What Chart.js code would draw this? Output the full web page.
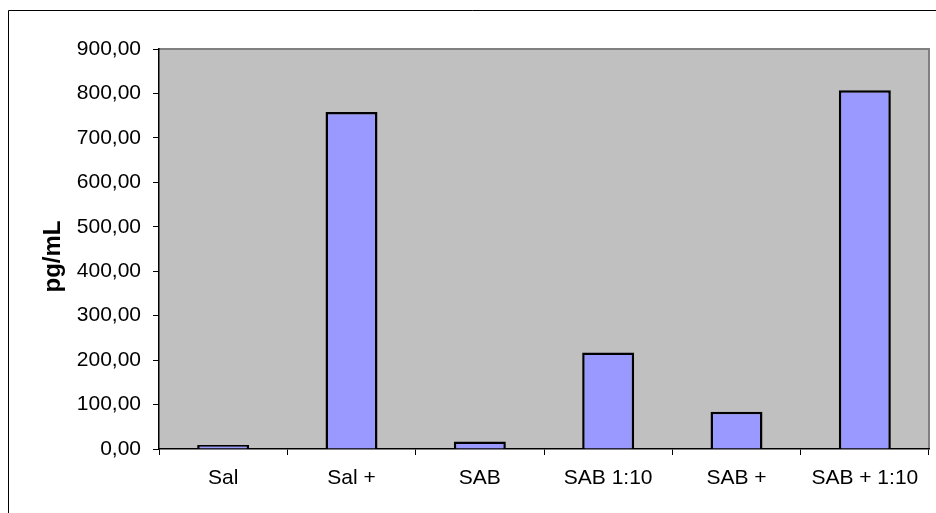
<!DOCTYPE html>
<html>
<head>
<meta charset="utf-8">
<script src="https://cdn.jsdelivr.net/npm/chart.js@4/dist/chart.umd.min.js"></script>
<style>
  html, body { margin: 0; padding: 0; background: #ffffff; }
  #wrap { position: relative; width: 936px; height: 513px; }
</style>
</head>
<body>
<div id="wrap"><canvas id="c" width="936" height="513"></canvas></div>
<script>
const categories = ["Sal", "Sal +", "SAB", "SAB 1:10", "SAB +", "SAB + 1:10"];
const values = [9, 758, 17, 217, 84, 807];
const yTicks = [0, 100, 200, 300, 400, 500, 600, 700, 800, 900];
const yTitle = "pg/mL";

const framePlugin = {
  id: 'frame',
  beforeDraw(chart) {
    const ctx = chart.ctx;
    const a = chart.chartArea;
    ctx.save();
    ctx.fillStyle = '#ffffff';
    ctx.fillRect(0, 0, chart.width, chart.height);
    ctx.strokeStyle = '#000000';
    ctx.lineWidth = 1;
    ctx.beginPath();
    ctx.moveTo(8.5, chart.height);
    ctx.lineTo(8.5, 10.5);
    ctx.lineTo(chart.width, 10.5);
    ctx.stroke();
    ctx.fillStyle = '#C0C0C0';
    ctx.fillRect(a.left, a.top, a.right - a.left, a.bottom - a.top);
    ctx.strokeStyle = '#808080';
    ctx.lineWidth = 2;
    ctx.beginPath();
    ctx.moveTo(a.left, a.top);
    ctx.lineTo(a.right, a.top);
    ctx.lineTo(a.right, a.bottom);
    ctx.stroke();
    // y-axis title
    ctx.save();
    ctx.translate(53, 256.5);
    ctx.rotate(-Math.PI / 2);
    ctx.fillStyle = '#000000';
    ctx.font = 'bold 24px "Liberation Sans"';
    ctx.textAlign = 'center';
    ctx.textBaseline = 'middle';
    ctx.fillText(yTitle, 0, 0);
    ctx.restore();
    ctx.restore();
  }
};

new Chart(document.getElementById('c'), {
  type: 'bar',
  data: {
    labels: categories,
    datasets: [{
      data: values,
      backgroundColor: '#9999FF',
      borderColor: '#000000',
      borderWidth: 2.5,
      barPercentage: 0.405,
      categoryPercentage: 1.0
    }]
  },
  options: {
    responsive: false,
    animation: false,
    devicePixelRatio: 1,
    layout: { padding: { top: 49, right: 7, left: 0, bottom: 0 } },
    plugins: { legend: { display: false }, tooltip: { enabled: false } },
    scales: {
      x: {
        offset: true,
        grid: { offset: true, drawOnChartArea: false, drawTicks: true, tickLength: 6, color: '#000000', lineWidth: 1 },
        border: { display: true, color: '#000000', width: 1.5 },
        ticks: { color: '#000000', font: { family: 'Liberation Sans', size: 21 }, padding: 11, maxRotation: 0, autoSkip: false },
        afterFit(s) { s.height = 64; }
      },
      y: {
        min: 0, max: 900,
        afterBuildTicks(s) { s.ticks = yTicks.map(v => ({ value: v })); },
        grid: { drawOnChartArea: false, drawTicks: true, tickLength: 6, color: '#000000', lineWidth: 1 },
        border: { display: true, color: '#000000', width: 1.5 },
        ticks: {
          color: '#000000', font: { family: 'Liberation Sans', size: 21 }, padding: 12,
          callback: v => v.toFixed(2).replace('.', ',')
        },
        afterFit(s) { s.width = 159; }
      }
    }
  },
  plugins: [framePlugin]
});
</script>
</body>
</html>
